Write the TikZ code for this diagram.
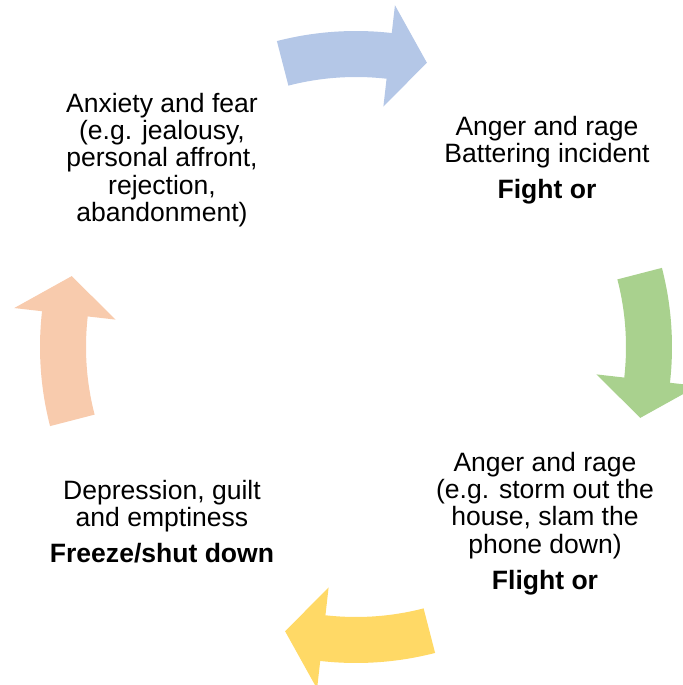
\documentclass[tikz,border=0pt]{standalone}
\usepackage{fontspec}
\setmainfont{Liberation Sans}
\usepackage{tikz}
\usetikzlibrary{positioning}

\definecolor{arrowblue}{HTML}{B4C7E7}
\definecolor{arrowgreen}{HTML}{A9D18E}
\definecolor{arrowyellow}{HTML}{FFD966}
\definecolor{arroworange}{HTML}{F8CBAD}

\begin{document}
\begin{tikzpicture}[
    stage/.style={align=center, inner sep=0pt, font=\fontsize{15.1}{15.5}\selectfont}
]
\useasboundingbox (0,0) rectangle (13.66,13.70);

% Centre of the cycle
\coordinate (hub) at (7.12,6.76);

% Stages
\node[stage] (fear) at (3.24,10.50) {Anxiety and fear\\(e.g. jealousy,\\personal affront,\\rejection,\\abandonment)};
\node[stage] (fight) at (10.94,10.49) {Anger and rage\\Battering incident\\[5pt]\textbf{Fight or}};
\node[stage] (flight) at (10.9,3.23) {Anger and rage\\(e.g. storm out the\\house, slam the\\phone down)\\[5pt]\textbf{Flight or}};
\node[stage] (freeze) at (3.24,3.26) {Depression, guilt\\and emptiness\\[5pt]\textbf{Freeze/shut down}};

% Curved arrows round the hub
\foreach \a/\col in {90/arrowblue, 0/arrowgreen, 270/arrowyellow, 180/arroworange}
  \fill[\col, shift={(hub)}] (\a+14.5:6.32) arc[start angle=\a+14.5, end angle=\a-6.5, radius=6.32]
    -- (\a-6.5:6.88) -- (\a-14:5.86) -- (\a-6.5:4.84) -- (\a-6.5:5.40)
    arc[start angle=\a-6.5, end angle=\a+14.5, radius=5.40] -- cycle;

\end{tikzpicture}
\end{document}
